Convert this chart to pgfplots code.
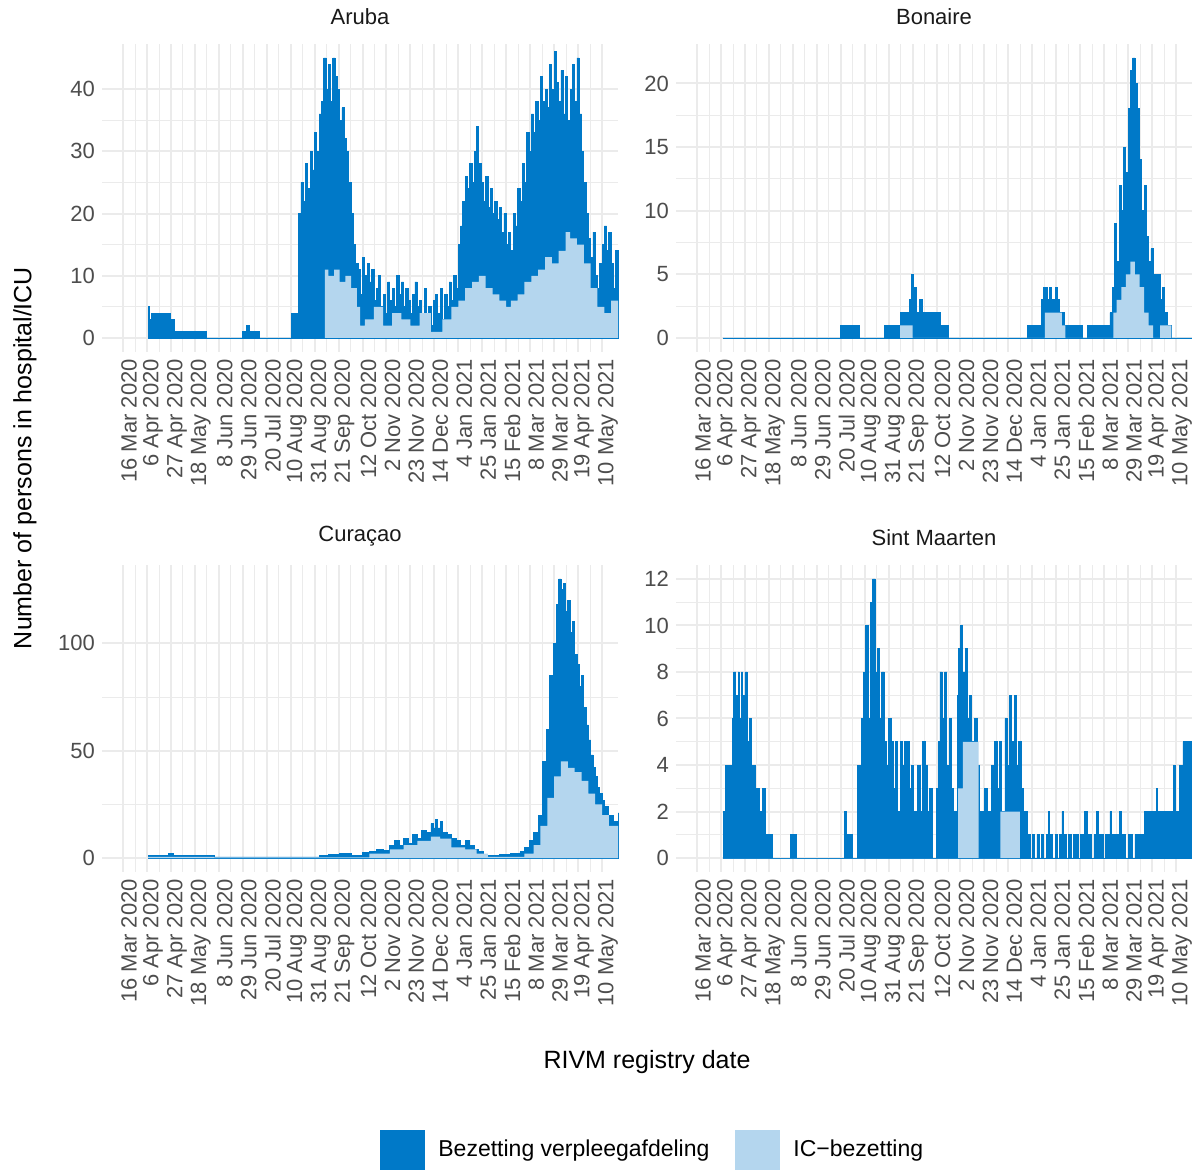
\documentclass[border=0pt]{standalone}
\usepackage{pgfplots}
\pgfplotsset{compat=1.18}
\usepackage{fontspec}
\setmainfont{Liberation Sans}
\definecolor{dk}{HTML}{0079C8}
\definecolor{lt}{HTML}{B4D6EE}
\definecolor{grd}{HTML}{EBEBEB}
\definecolor{tk}{HTML}{4D4D4D}
\pgfplotsset{
 panel/.style={
  scale only axis, width=258pt, height=154pt, anchor=south west,
  xmin=-18.4, xmax=434, axis line style={draw=none},
  xtick={0,21,...,420},
  xticklabels={16 Mar 2020,6 Apr 2020,27 Apr 2020,18 May 2020,8 Jun 2020,29 Jun 2020,20 Jul 2020,10 Aug 2020,31 Aug 2020,21 Sep 2020,12 Oct 2020,2 Nov 2020,23 Nov 2020,14 Dec 2020,4 Jan 2021,25 Jan 2021,15 Feb 2021,8 Mar 2021,29 Mar 2021,19 Apr 2021,10 May 2021},
  minor x tick num=1, minor y tick num=1,
  xtick pos=bottom, ytick pos=left,
  grid=both, major grid style={grd, line width=1pt}, minor grid style={grd, line width=0.4pt},
  major tick length=0pt, minor tick length=0pt,
  xticklabel style={rotate=90, anchor=east, font=\fontsize{11}{11}\selectfont, text=tk, yshift=-3pt},
  yticklabel style={font=\fontsize{11}{11}\selectfont, text=tk},
  /pgf/number format/assume math mode=true,
  title style={font=\fontsize{11}{11}\selectfont, text=black!90, at={(0.5,1)}, anchor=south, yshift=0pt},
  clip=false,
 },
 tot/.style={const plot mark left, fill=dk, draw=dk, line width=0.4pt},
 ic/.style={const plot mark left, fill=lt, draw=none},
}
\begin{document}
\begin{tikzpicture}
\useasboundingbox (0,0) rectangle (596pt,585.5pt);
% Aruba
\begin{axis}[panel, at={(51pt,409.5pt)}, ymin=-2.25, ymax=47.25, ytick={0,10,20,30,40}, title={Aruba}]
\addplot[tot] coordinates {(22,5)(23,3)(25,4)(30,4)(38,4)(42,3)(45,1)(73,0)(105,1)(108,2)(111,1)(120,0)(148,4)(154,20)(156,25)(158,22)(160,28)(162,24)(164,30)(166,27)(168,33)(170,30)(172,36)(174,38)(176,45)(178,40)(180,44)(182,38)(184,45)(186,42)(188,40)(190,35)(192,37)(194,32)(196,30)(198,25)(200,20)(202,15)(204,12)(206,11)(208,7)(210,13)(212,10)(214,12)(216,9)(218,11)(220,6)(222,8)(224,10)(226,5)(228,7)(230,4)(232,9)(234,6)(236,8)(238,5)(240,10)(242,7)(244,9)(246,5)(248,8)(250,6)(252,4)(254,7)(256,9)(258,5)(260,6)(262,3)(264,8)(266,4)(268,5)(270,2)(272,6)(274,7)(276,4)(278,8)(280,3)(282,7)(284,5)(286,9)(288,6)(290,10)(292,8)(294,15)(296,18)(298,22)(300,26)(302,24)(304,28)(306,25)(308,30)(310,34)(312,28)(314,25)(316,22)(318,26)(320,21)(322,24)(324,20)(326,22)(328,19)(330,21)(332,17)(334,20)(336,15)(338,17)(340,14)(342,20)(344,18)(346,24)(348,22)(350,28)(352,25)(354,33)(356,30)(358,36)(360,33)(362,38)(364,35)(366,42)(368,38)(370,40)(372,37)(374,44)(376,40)(378,46)(380,41)(382,38)(384,43)(386,36)(388,42)(390,35)(392,40)(394,44)(396,38)(398,45)(400,36)(402,30)(404,25)(406,20)(408,16)(410,13)(412,17)(414,10)(416,8)(418,12)(420,15)(422,18)(424,14)(426,17)(428,12)(430,8)(432,14)(434,5)} \closedcycle;
\addplot[ic] coordinates {(177,11)(180,10)(185,11)(190,9)(195,10)(200,8)(205,5)(208,2)(212,3)(220,5)(228,2)(236,4)(244,3)(252,2)(260,4)(270,1)(280,3)(288,5)(294,6)(300,8)(306,9)(312,10)(318,8)(324,7)(330,6)(336,5)(340,6)(346,7)(352,9)(358,10)(364,11)(370,13)(376,12)(382,14)(388,17)(392,16)(398,15)(404,12)(410,8)(416,5)(422,4)(428,6)(434,3)} \closedcycle;
\end{axis}
% Bonaire
\begin{axis}[panel, at={(338pt,409.5pt)}, ymin=-1.1, ymax=23.1, ytick={0,5,10,15,20}, title={Bonaire}]
\addplot[tot] coordinates {(23,0)(126,1)(142,0)(164,1)(178,2)(186,3)(188,5)(190,4)(192,2)(195,3)(198,2)(205,2)(213,1)(220,0)(290,1)(300,1)(302,3)(304,4)(307,3)(309,4)(311,3)(314,4)(316,3)(318,2)(320,2)(322,1)(338,0)(342,1)(362,2)(364,4)(366,9)(368,6)(370,12)(372,10)(374,15)(376,13)(378,18)(380,21)(382,22)(384,20)(386,18)(388,14)(390,10)(392,12)(394,8)(396,6)(398,7)(400,5)(406,3)(408,4)(410,2)(412,1)(416,0)(434,0)} \closedcycle;
\addplot[ic] coordinates {(178,1)(189,0)(305,2)(320,1)(323,0)(365,2)(368,3)(372,4)(376,5)(380,6)(384,5)(388,4)(392,2)(396,1)(400,0)(406,1)(416,0)} \closedcycle;
\end{axis}
% Curacao
\begin{axis}[panel, at={(51pt,149.5pt)}, height=153.5pt, ymin=-6.5, ymax=136.5, ytick={0,50,100}, title={Curaçao}]
\addplot[tot] coordinates {(22,1)(40,2)(44,1)(80,0.5)(172,1)(180,1.5)(190,2)(200,1)(210,2.5)(216,3)(222,4)(228,3.5)(234,6)(238,8)(242,6)(246,9)(250,7)(254,11)(258,9)(262,13)(266,12)(270,16)(272,14)(274,18)(276,14)(278,17)(280,12)(284,11)(288,9)(292,8)(296,6)(300,8)(304,6)(308,4)(312,3)(316,1)(322,1)(330,1.5)(340,2)(348,3)(352,5)(356,8)(360,12)(364,20)(368,45)(371,60)(374,85)(377,100)(380,118)(382,130)(384,125)(386,128)(388,115)(390,120)(392,105)(394,110)(396,95)(398,90)(400,80)(402,85)(404,70)(406,62)(408,55)(410,48)(412,42)(414,38)(416,33)(418,30)(420,27)(422,24)(426,20)(430,17)(434,21)} \closedcycle;
\addplot[ic] coordinates {(22,0.5)(80,0.3)(216,2)(234,4)(246,6)(258,8)(270,10)(278,9)(288,5)(300,4)(310,2)(320,0.5)(352,2)(360,6)(366,15)(372,28)(378,38)(384,45)(390,42)(396,40)(402,36)(408,30)(414,25)(420,20)(426,15)(434,12)} \closedcycle;
\end{axis}
% Sint Maarten
\begin{axis}[panel, at={(338pt,149.5pt)}, height=153.5pt, ymin=-0.6, ymax=12.6, ytick={0,2,...,12}, title={Sint Maarten}]
\addplot[tot] coordinates {(23,2)(25,4)(31,6)(32,8)(34,7)(36,8)(37,6)(39,8)(40,7)(42,8)(44,5)(46,6)(48,4)(51,3)(55,2)(57,3)(60,1)(66,0)(82,1)(87,0)(129,2)(131,1)(136,0)(141,4)(144,6)(146,8)(148,10)(150,6)(152,11)(154,12)(156,8)(158,9)(160,6)(162,8)(164,5)(166,4)(168,6)(170,5)(172,3)(174,5)(176,2)(178,5)(180,4)(182,5)(186,3)(188,4)(190,2)(193,4)(196,2)(198,5)(200,4)(202,2)(204,3)(206,0)(210,3)(212,5)(213,8)(215,6)(217,8)(219,4)(221,6)(223,3)(225,2)(228,7)(229,9)(231,10)(233,8)(235,9)(237,6)(239,7)(241,5)(243,6)(246,4)(248,2)(252,3)(255,2)(258,4)(261,5)(263,3)(265,5)(267,2)(270,6)(272,4)(274,7)(276,5)(278,7)(280,4)(282,5)(284,3)(286,2)(290,1)(292,0)(294,1)(296,0)(298,1)(300,0)(302,1)(304,0)(306,1)(308,2)(309,1)(312,0)(314,1)(316,0)(318,1)(320,2)(321,1)(324,0)(326,1)(328,0)(330,1)(334,0)(336,1)(340,2)(342,1)(346,0)(348,1)(350,2)(352,1)(356,0)(358,1)(362,2)(363,1)(370,2)(372,1)(376,0)(378,1)(382,0)(384,1)(392,2)(403,3)(404,2)(418,4)(419,2)(423,4)(426,5)(434,5)} \closedcycle;
\addplot[ic] coordinates {(23,0)(229,3)(233,5)(247,0)(266,2)(283,0)} \closedcycle;
\end{axis}
\node[rotate=90, font=\fontsize{12.5}{12.5}\selectfont] at (12.5pt,356.5pt) {Number of persons in hospital/ICU};
\node[font=\fontsize{12.5}{12.5}\selectfont] at (323.5pt,54.5pt) {RIVM registry date};
\fill[dk] (190pt,0.5pt) rectangle (212.5pt,20.5pt);
\node[anchor=west, font=\fontsize{11.5}{11.5}\selectfont, inner sep=0pt] at (219pt,10pt) {Bezetting verpleegafdeling};
\fill[lt] (367.5pt,0.5pt) rectangle (390pt,20.5pt);
\node[anchor=west, font=\fontsize{11.5}{11.5}\selectfont, inner sep=0pt] at (396.5pt,10pt) {IC\textminus bezetting};
\end{tikzpicture}
\end{document}
